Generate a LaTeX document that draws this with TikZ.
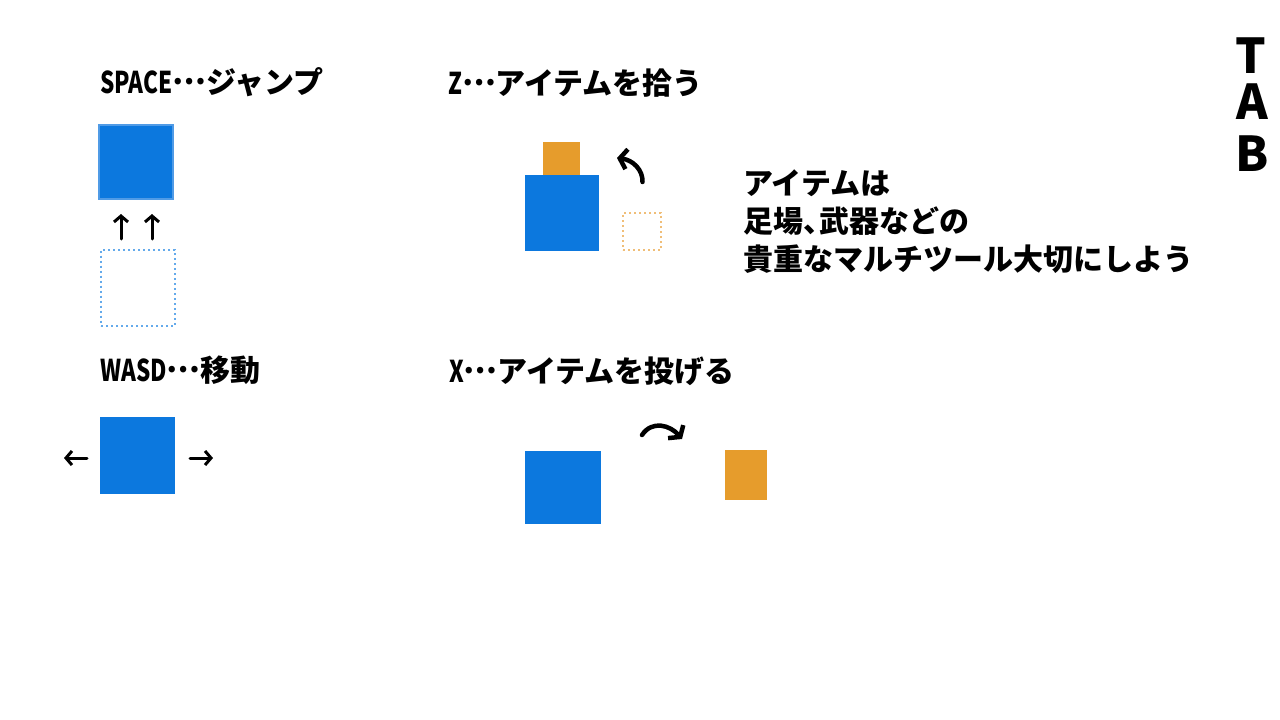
\documentclass[tikz,border=0pt]{standalone}
\usepackage{fontspec}
\newfontfamily\jp{Noto Sans CJK JP}
\newfontfamily\lat{Noto Sans CJK JP}[FakeStretch=0.75]
\newcommand\middots{\raisebox{0.3em}{…}}
\usetikzlibrary{arrows.meta}
\definecolor{pblue}{RGB}{12,120,222}
\definecolor{pblueedge}{RGB}{80,155,230}
\definecolor{pdotblue}{RGB}{100,170,235}
\definecolor{porange}{RGB}{230,156,44}
\definecolor{pdotorange}{RGB}{240,190,120}
\tikzset{
  head/.style={font=\jp\bfseries\fontsize{30}{37}\selectfont, anchor=west, inner sep=0pt},
  tabletter/.style={font=\jp\bfseries\fontsize{48}{48}\selectfont, inner sep=0pt},
  box/.style={inner sep=0pt, outer sep=0pt, draw=none},
  player/.style={box, fill=pblue},
  item/.style={box, fill=porange},
  ghostplayer/.style={box, draw=pdotblue, line width=2pt, dash pattern=on 2pt off 3pt},
  ghostitem/.style={box, draw=pdotorange, line width=2pt, dash pattern=on 2pt off 3pt},
  smallarrow/.style={line width=3pt, -{Straight Barb[length=6pt,width=14pt]}, line cap=round},
  bigarrow/.style={line width=4.5pt, -{Straight Barb[length=7pt,width=20pt]}, line cap=round, line join=round},
}
\begin{document}
\begin{tikzpicture}[x=1pt,y=-1pt]
\useasboundingbox (0,0) rectangle (1280,720);
\fill[white] (0,0) rectangle (1280,720);

% headings
\node[head] (hjump) at (100,82) {{\lat\bfseries SPACE}\middots ジャンプ};
\node[head] (hmove) at (100,370) {{\lat\bfseries WASD}\middots 移動};
\node[head] (hpick) at (448,83) {{\lat\bfseries Z}\middots アイテムを拾う};
\node[head] (hthrow) at (449,371) {{\lat\bfseries X}\middots アイテムを投げる};

% jump
\node[player, draw=pblueedge, line width=2pt, minimum width=74pt, minimum height=74pt] (jumpup) at (136.3,162.3) {};
\node[ghostplayer, minimum width=74pt, minimum height=76pt] (jumpghost) at (138,287.5) {};
\coordinate (ua1s) at (121,239);
\coordinate (ua1e) at (121,214);
\coordinate (ua2s) at (152,239);
\coordinate (ua2e) at (152,214);
\draw[smallarrow] (ua1s) -- (ua1e);
\draw[smallarrow] (ua2s) -- (ua2e);

% move
\node[player, minimum width=75pt, minimum height=77pt] (move) at (137.5,455.5) {};
\coordinate (la) at (87,458);
\coordinate (lb) at (64,458);
\coordinate (ra) at (190,458);
\coordinate (rb) at (213,458);
\draw[smallarrow] (la) -- (lb);
\draw[smallarrow] (ra) -- (rb);

% pick up
\node[player, minimum width=74pt, minimum height=76pt] (pickplayer) at (562,213) {};
\node[item, minimum width=37pt, minimum height=33pt] (pickitem) at (561.5,158.5) {};
\node[ghostitem, minimum width=38pt, minimum height=37pt] (pickghost) at (642.2,231.7) {};
\coordinate (pas) at (642.5,182);
\coordinate (pae) at (617,158);
\draw[bigarrow] (pas) .. controls (643,170) and (633,160) .. (pae);

% throw
\node[player, minimum width=76pt, minimum height=73pt] (throwplayer) at (563,487.3) {};
\node[item, minimum width=42pt, minimum height=50pt] (throwitem) at (746,474.8) {};
\coordinate (tas) at (642,435);
\coordinate (tae) at (682,439);
\draw[bigarrow] (tas) .. controls (652,420) and (670,425) .. (tae);

% note
\node[head, align=left, font=\jp\bfseries\fontsize{30}{38}\selectfont] (note) at (743,222)
  {アイテムは\\足場、\kern-0.45em 武器などの\\貴重なマルチツール大切にしよう};

% TAB
\node[tabletter] (tT) at (1251,56) {T};
\node[tabletter] (tA) at (1252,101.5) {A};
\node[tabletter] (tB) at (1252,153.5) {B};
\end{tikzpicture}
\end{document}
